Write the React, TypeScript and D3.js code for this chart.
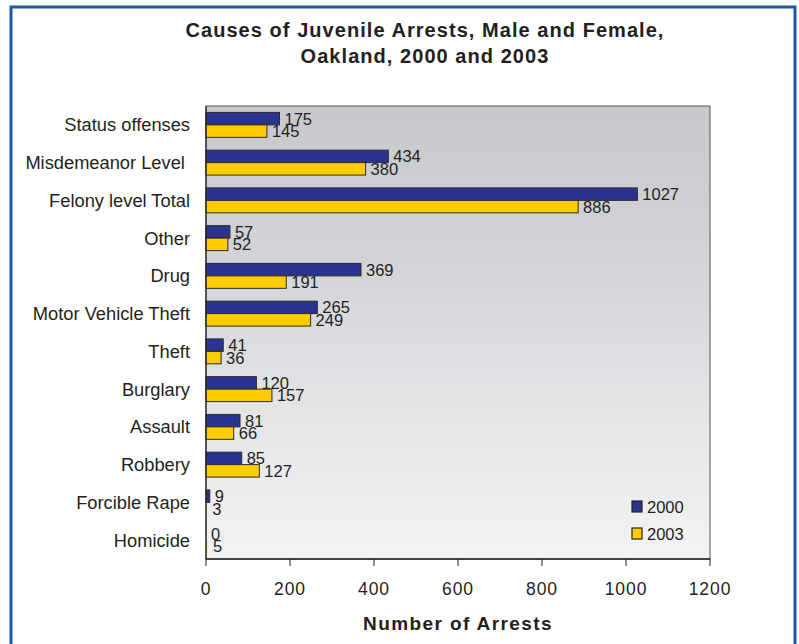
import React from "react";
import * as d3 from "d3";

const categories = [
  "Status offenses",
  "Misdemeanor Level ",
  "Felony level Total",
  "Other",
  "Drug",
  "Motor Vehicle Theft",
  "Theft",
  "Burglary",
  "Assault",
  "Robbery",
  "Forcible Rape",
  "Homicide",
];
const values2000 = [175, 434, 1027, 57, 369, 265, 41, 120, 81, 85, 9, 0];
const values2003 = [145, 380, 886, 52, 191, 249, 36, 157, 66, 127, 3, 5];
const seriesNames = ["2000", "2003"];
const seriesColors = ["#2B3391", "#FFCC00"];
const xTicks = [0, 200, 400, 600, 800, 1000, 1200];
const titleLines = ["Causes of Juvenile Arrests, Male and Female,", "Oakland, 2000 and 2003"];
const xTitle = "Number of Arrests";

const W = 799;
const H = 644;
const plot = { left: 206, right: 710, top: 106, bottom: 559 };
const FONT = "'Liberation Sans', Arial, Helvetica, sans-serif";

export default function App() {
  const x = d3.scaleLinear().domain([0, 1200]).range([plot.left, plot.right]);
  const y = d3
    .scaleBand<string>()
    .domain(categories)
    .range([plot.top, plot.bottom])
    .paddingInner(0.34)
    .paddingOuter(0.17);
  const inner = d3.scaleBand<string>().domain(seriesNames).range([0, y.bandwidth()]);
  const series = [values2000, values2003];

  return (
    <svg
      width={W}
      height={H}
      style={{ position: "absolute", left: 0, top: 0, display: "block" }}
      fontFamily={FONT}
    >
      <defs>
        <linearGradient id="bg" x1="0" y1="0" x2="0" y2="1">
          <stop offset="0" stopColor="#c6c8cb" />
          <stop offset="0.35" stopColor="#d2d4d7" />
          <stop offset="0.7" stopColor="#e5e6e8" />
          <stop offset="1" stopColor="#f3f3f5" />
        </linearGradient>
      </defs>
      <rect x={0} y={0} width={W} height={H} fill="#ffffff" />
      <rect x={11} y={7} width={784} height={700} fill="#ffffff" stroke="#1d5aa6" strokeWidth={3} />

      {titleLines.map((t, i) => (
        <text
          key={i}
          x={425}
          y={37 + i * 26}
          textAnchor="middle"
          fontSize={20}
          fontWeight="bold"
          letterSpacing={1.05}
          fill="#231f20"
        >
          {t}
        </text>
      ))}

      <rect
        x={plot.left}
        y={plot.top}
        width={plot.right - plot.left}
        height={plot.bottom - plot.top}
        fill="url(#bg)"
        stroke="#555"
        strokeWidth={1}
      />

      {categories.map((c, ci) => (
        <g key={c} transform={`translate(0,${y(c)})`}>
          {series.map((vals, si) => {
            const by = inner(seriesNames[si])!;
            const bh = inner.bandwidth();
            const bw = x(vals[ci]) - x(0);
            return (
              <g key={si}>
                {vals[ci] > 0 && (
                  <rect
                    x={x(0)}
                    y={by}
                    width={bw}
                    height={bh}
                    fill={seriesColors[si]}
                    stroke={bw > 3 ? "#2a2a2a" : "none"}
                    strokeWidth={1}
                    opacity={bw > 3 ? 1 : 0.35}
                  />
                )}
                <text
                  x={x(vals[ci]) + 5}
                  y={by + bh / 2}
                  dominantBaseline="central"
                  fontSize={16.5}
                  fill="#231f20"
                >
                  {vals[ci]}
                </text>
              </g>
            );
          })}
          <text
            x={190}
            y={y.bandwidth() / 2}
            textAnchor="end"
            dominantBaseline="central"
            fontSize={18.3}
            fill="#231f20"
            style={{ whiteSpace: "pre" }}
          >
            {c}
          </text>
        </g>
      ))}

      <line x1={plot.left} x2={plot.left} y1={plot.top} y2={plot.bottom} stroke="#222" strokeWidth={1.2} />
      <line x1={plot.left} x2={plot.right} y1={plot.bottom} y2={plot.bottom} stroke="#222" strokeWidth={1.5} />
      {xTicks.map((t) => (
        <g key={t}>
          <line x1={x(t)} x2={x(t)} y1={plot.bottom} y2={plot.bottom + 7} stroke="#222" strokeWidth={1} />
          <text
            x={x(t)}
            y={589}
            textAnchor="middle"
            dominantBaseline="central"
            fontSize={17.5}
            letterSpacing={0.9}
            fill="#231f20"
          >
            {t}
          </text>
        </g>
      ))}
      <text
        x={(plot.left + plot.right) / 2}
        y={623}
        textAnchor="middle"
        dominantBaseline="central"
        fontSize={19}
        fontWeight="bold"
        letterSpacing={1.4}
        fill="#231f20"
      >
        {xTitle}
      </text>

      {seriesNames.map((s, i) => (
        <g key={s} transform={`translate(632,${501 + i * 27})`}>
          <rect x={0} y={0} width={10} height={11} fill={seriesColors[i]} stroke="#222" strokeWidth={1.2} />
          <text x={15} y={5.5} dominantBaseline="central" fontSize={16.5} fill="#231f20">
            {s}
          </text>
        </g>
      ))}
    </svg>
  );
}
